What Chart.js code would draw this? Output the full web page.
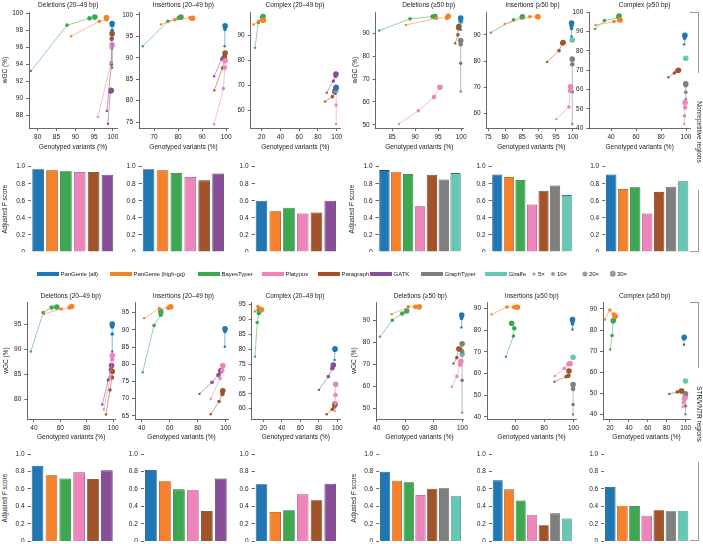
<!DOCTYPE html>
<html>
<head>
<meta charset="utf-8">
<title>wGC and adjusted F score</title>
<script src="https://cdn.jsdelivr.net/npm/chart.js@4.4.1/dist/chart.umd.min.js"></script>
<style>
  html, body { margin: 0; padding: 0; background: #fff; }
  body { position: relative; width: 703px; height: 544px; overflow: hidden;
         font-family: "Liberation Sans", Arial, Helvetica, sans-serif; color: #222; }
  canvas { position: absolute; }
  .txt { position: absolute; font-size: 6.5px; line-height: 1; white-space: nowrap; transform: translate(-50%, -50%); }
  .rot { transform: translate(-50%, -50%) rotate(-90deg); }
  .rot90 { transform: translate(-50%, -50%) rotate(90deg); }
  .ltxt { position: absolute; font-size: 6.1px; letter-spacing: -0.1px; line-height: 1; white-space: nowrap; transform: translateY(-50%); }
  .sw { position: absolute; height: 4px; width: 22px; }
  .dot { position: absolute; border-radius: 50%; background: #9a9a9a; transform: translate(-50%, -50%); }
  .ln { position: absolute; background: #9a9a9a; }
</style>
</head>
<body>
<script>
// ---------------- data ----------------
const tools = ["PanGenie (all)", "PanGenie (high-gq)", "BayesTyper", "Platypus", "Paragraph", "GATK", "GraphTyper", "Giraffe"];
const toolColors = ["#1f77b4", "#f5822a", "#3da851", "#ed85ba", "#a2532a", "#884e97", "#7f7f7f", "#66c8b4"];
const coverages = ["5×", "10×", "20×", "30×"];
const panelTitles = ["Deletions (20–49 bp)", "Insertions (20–49 bp)", "Complex (20–49 bp)",
                     "Deletions (≥50 bp)", "Insertions (≥50 bp)", "Complex (≥50 bp)"];
const regionLabels = ["Nonrepetitive regions", "STR/VNTR regions"];

// genotyped variants (%) and wGC (%): one row per tool, one column per coverage
const nrDelShortX = [[99.8,99.8,99.8,99.8],[88.9,96.4,98.3,98.3],[78.2,87.8,93.8,95.2],[96.0,99.5,99.7,99.8],[98.4,99.6,99.7,99.8],[98.7,99.3,99.5,99.6],null,null];
const nrDelShortY = [[93.6,98.0,98.6,98.8],[97.3,99.05,99.3,99.5],[93.2,98.6,99.4,99.55],[87.8,94.2,95.95,96.25],[88.5,94.0,97.0,97.6],[87.0,90.75,91.0,90.9],null,null];
const nrInsShortX = [[99.4,99.5,99.6,99.6],[72.9,78.7,85.2,86.0],[65.3,75.8,80.3,81.2],[95.0,98.9,99.5,99.6],[95.1,98.5,99.4,99.6],[95.0,98.2,99.0,99.2],null,null];
const nrInsShortY = [[92.7,96.6,97.2,97.5],[97.8,98.9,99.3,99.25],[92.7,98.5,99.3,99.5],[74.5,82.8,87.7,89.3],[82.4,87.6,90.4,91.1],[85.7,89.7,89.9,90.0],null,null];
const nrCpxShortX = [[98.6,99.0,99.2,99.3],[11.5,17.0,20.5,21.8],[12.9,16.5,20.5,21.5],[99.3,99.4,99.5,99.5],[87.6,95.4,97.5,98.6],[89.3,96.4,98.8,99.2],null,null];
const nrCpxShortY = [[66.5,68.3,68.8,69.0],[94.4,95.7,96.0,96.1],[85.0,95.2,97.3,97.6],[54.4,62.0,67.6,69.1],[63.4,65.4,67.4,68.0],[67.0,71.7,73.8,74.5],null,null];
const nrDelLongX = [[99.9,99.9,99.9,99.9],[88.0,94.6,96.9,97.2],[82.2,88.9,93.8,94.3],[86.5,90.7,94.1,95.4],[98.7,99.3,99.4,99.5],null,[99.9,99.9,99.9,99.9],[null,null,null,99.9]];
const nrDelLongY = [[91.5,95.5,96.5,96.7],[93.6,96.6,96.8,97.4],[91.2,96.3,97.3,97.3],[50.4,56.1,62.1,66.4],[85.6,89.3,92.2,92.9],null,[64.5,76.9,85.2,86.8],[null,null,null,95.3]];
const nrInsLongX = [[99.6,99.6,99.6,99.6],[79.9,87.3,89.4,89.7],[75.8,82.5,85.0,85.1],[95.1,98.8,99.2,99.3],[92.4,95.9,96.9,97.1],null,[99.8,99.8,99.8,99.8],[null,null,null,99.8]];
const nrInsLongY = [[89.4,92.5,93.6,94.6],[94.2,97.0,97.0,97.0],[90.9,95.8,96.9,97.0],[57.8,62.4,68.6,70.2],[79.7,84.0,86.8,87.1],null,[55.9,68.3,78.8,80.8],[null,null,null,88.1]];
const nrCpxLongX = [[98.4,98.8,99.0,99.1],[27.7,42.4,46.7,47.2],[27.2,34.7,45.9,46.4],[98.5,98.8,99.3,99.3],[85.9,90.7,93.1,94.0],null,[99.8,99.8,99.8,99.8],[null,null,null,99.8]];
const nrCpxLongY = [[83.4,86.5,87.5,88.1],[93.4,95.2,96.0,96.0],[91.4,95.7,97.4,98.1],[42.2,46.4,50.7,53.3],[66.4,68.6,69.7,70.0],null,[55.0,58.6,62.2,63.0],[null,null,null,76.2]];

const strDelShortX = [[99.2,99.2,99.2,99.2],[47.5,60.5,67.0,68.5],[37.7,47.0,53.4,57.3],[92.9,97.5,99.2,99.3],[94.5,97.5,99.0,99.2],[91.7,96.2,98.2,98.7],null,null];
const strDelShortY = [[89.5,93.0,94.5,95.0],[97.0,98.0,98.3,98.5],[89.5,97.3,98.3,98.4],[77.9,84.3,87.9,88.7],[76.9,81.8,84.3,85.5],[78.9,83.8,85.9,86.7],null,null];
const strInsShortX = [[99.3,99.4,99.5,99.5],[41.7,52.6,59.0,60.7],[40.7,48.8,53.6,53.6],[89.3,95.9,97.6,97.9],[89.3,95.2,97.6,97.9],[81.2,90.2,94.8,96.4],null,null];
const strInsShortY = [[85.1,89.5,90.0,90.3],[93.4,96.2,96.4,96.7],[77.7,91.3,94.4,95.3],[69.9,75.9,78.2,79.6],[65.5,69.2,71.4,72.3],[71.4,74.8,76.9,78.1],null,null];
const strCpxShortX = [[97.0,97.3,97.5,97.5],[11.0,14.3,17.3,18.0],[11.0,13.5,15.2,15.8],[97.2,97.8,98.0,98.2],[88.5,94.6,96.8,97.5],[80.2,90.3,94.6,95.7],null,null];
const strCpxShortY = [[76.4,79.6,80.0,80.1],[92.7,94.4,93.6,93.3],[77.5,89.0,92.2,93.0],[59.2,61.8,64.6,68.2],[58.1,59.8,60.7,61.5],[66.3,70.8,73.6,74.7],null,null];
const strDelLongX = [[99.3,99.4,99.5,99.5],[50.5,62.1,67.0,69.8],[42.3,50.9,57.9,61.0],[92.6,96.1,98.4,98.9],[93.7,96.1,97.2,97.7],null,[99.8,99.8,99.8,99.8],[null,null,null,99.8]];
const strDelLongY = [[86.8,90.8,91.9,92.4],[92.8,96.1,96.1,96.1],[82.6,90.0,93.1,94.2],[59.9,64.6,69.9,71.3],[70.4,73.1,77.1,77.0],null,[48.2,62.8,75.8,79.4],[null,null,null,74.6]];
const strInsLongX = [[99.4,99.4,99.4,99.4],[44.0,54.4,59.5,61.6],[53.8,58.9,59.5,57.7],[87.4,93.8,96.6,97.7],[87.0,95.0,96.6,97.0],null,[99.8,99.8,99.8,99.8],[null,null,null,99.8]];
const strInsLongY = [[80.2,82.8,84.0,84.8],[87.2,90.6,90.5,90.5],[67.7,77.2,80.8,83.1],[58.8,62.3,64.2,64.5],[56.2,58.5,58.9,61.1],null,[41.1,45.7,52.8,54.9],[null,null,null,67.4]];
const strCpxLongX = [[98.2,98.3,98.4,98.5],[14.7,19.8,24.0,25.5],[20.2,22.2,23.3,23.5],[96.8,97.5,98.5,99.0],[82.7,91.1,94.6,95.7],null,[99.8,99.8,99.8,99.8],[null,null,null,99.8]];
const strCpxLongY = [[73.0,75.8,76.3,76.6],[85.0,89.5,87.3,86.5],[70.8,77.4,84.0,84.5],[43.6,45.5,47.0,47.6],[49.7,50.6,51.1,51.1],null,[40.0,44.0,48.3,49.8],[null,null,null,55.8]];

// adjusted F score, one value per tool
const nrDelShortF = [0.97, 0.958, 0.946, 0.938, 0.938, 0.906, null, null];
const nrInsShortF = [0.97, 0.958, 0.926, 0.879, 0.84, 0.92, null, null];
const nrCpxShortF = [0.6, 0.478, 0.52, 0.45, 0.463, 0.6, null, null];
const nrDelLongF = [0.96, 0.94, 0.915, 0.537, 0.905, null, 0.85, 0.925];
const nrInsLongF = [0.91, 0.88, 0.845, 0.557, 0.718, null, 0.78, 0.667];
const nrCpxLongF = [0.91, 0.74, 0.76, 0.45, 0.705, null, 0.765, 0.83];
const strDelShortF = [0.866, 0.756, 0.72, 0.79, 0.714, 0.813, null, null];
const strInsShortF = [0.817, 0.687, 0.595, 0.584, 0.347, 0.72, null, null];
const strCpxShortF = [0.653, 0.336, 0.355, 0.538, 0.47, 0.66, null, null];
const strDelLongF = [0.798, 0.695, 0.676, 0.53, 0.603, null, 0.607, 0.515];
const strInsLongF = [0.698, 0.595, 0.466, 0.305, 0.183, null, 0.32, 0.26];
const strCpxLongF = [0.622, 0.408, 0.405, 0.294, 0.355, null, 0.344, 0.35];

// tick values
const barTicks = [0, 0.2, 0.4, 0.6, 0.8, 1.0];
const barTickLabels = ["0", "0.2", "0.4", "0.6", "0.8", "1.0"];
const nrDelShortXTicks = [80, 85, 90, 95, 100];
const nrDelShortYTicks = [88, 90, 92, 94, 96, 98, 100];
const nrInsShortXTicks = [70, 80, 90, 100];
const nrInsShortYTicks = [75, 80, 85, 90, 95, 100];
const nrCpxShortXTicks = [20, 40, 60, 80, 100];
const nrCpxShortYTicks = [60, 70, 80, 90];
const nrDelLongXTicks = [85, 90, 95, 100];
const nrDelLongYTicks = [50, 60, 70, 80, 90];
const nrInsLongXTicks = [75, 80, 85, 90, 95, 100];
const nrInsLongYTicks = [60, 70, 80, 90];
const nrCpxLongXTicks = [40, 60, 80, 100];
const nrCpxLongYTicks = [40, 50, 60, 70, 80, 90, 100];
const strDelShortXTicks = [40, 60, 80, 100];
const strDelShortYTicks = [80, 85, 90, 95];
const strInsShortXTicks = [40, 60, 80, 100];
const strInsShortYTicks = [65, 70, 75, 80, 85, 90, 95];
const strCpxShortXTicks = [20, 40, 60, 80, 100];
const strCpxShortYTicks = [60, 65, 70, 75, 80, 85, 90, 95];
const strDelLongXTicks = [40, 60, 80, 100];
const strDelLongYTicks = [50, 60, 70, 80, 90];
const strInsLongXTicks = [60, 80, 100];
const strInsLongYTicks = [40, 50, 60, 70, 80, 90];
const strCpxLongXTicks = [20, 40, 60, 80, 100];
const strCpxLongYTicks = [40, 50, 60, 70, 80, 90];

// ---------------- styling ----------------
const FONT = '"Liberation Sans", Arial, Helvetica, sans-serif';
const FS = 6.5;
const INK = "#222";
const AXIS = "#444";
const covRadius = [1.2, 1.8, 2.3, 2.8];

Chart.defaults.font.family = FONT;
Chart.defaults.font.size = FS;
Chart.defaults.color = INK;

function fade(hex, a) {
  const n = parseInt(hex.slice(1), 16);
  return `rgba(${n >> 16},${(n >> 8) & 255},${n & 255},${a})`;
}
function shade(hex, f) {
  const n = parseInt(hex.slice(1), 16);
  return `rgb(${Math.round((n >> 16) * f)},${Math.round(((n >> 8) & 255) * f)},${Math.round((n & 255) * f)})`;
}

function addText(html, x, y, cls) {
  const d = document.createElement("div");
  d.className = cls;
  d.innerHTML = html;
  d.style.left = x + "px";
  d.style.top = y + "px";
  document.body.appendChild(d);
  return d;
}

// canvas whose chart area lands exactly on box
function makeCanvas(box, yw, xh, pt, pr) {
  const left = Math.floor(box.l - yw);
  const top = Math.floor(box.t - pt);
  const right = Math.ceil(box.r + pr);
  const bottom = Math.ceil(box.b + xh);
  const c = document.createElement("canvas");
  c.width = right - left;
  c.height = bottom - top;
  c.style.left = left + "px";
  c.style.top = top + "px";
  c.style.width = c.width + "px";
  c.style.height = c.height + "px";
  document.body.appendChild(c);
  return { c, padding: { left: box.l - yw - left, top: box.t - top, right: right - box.r, bottom: bottom - box.b - xh } };
}

function axis(ticks, fit, labels) {
  return {
    afterBuildTicks: s => { s.ticks = ticks.map(v => ({ value: v })); },
    afterFit: fit,
    grid: { display: true, drawOnChartArea: false, drawTicks: true, tickLength: 3, color: AXIS, lineWidth: 0.8 },
    border: { display: true, color: AXIS, width: 0.8 },
    ticks: {
      font: { family: FONT, size: FS }, color: INK, padding: 2,
      maxRotation: 0, minRotation: 0, autoSkip: false,
      callback: (v, i) => labels ? labels[i] : String(v)
    }
  };
}

function scatterPanel(p) {
  const { c, padding } = makeCanvas(p.box, p.yw, p.xh, 6, 10);
  const datasets = [];
  p.xs.forEach((row, i) => {
    if (!row) return;
    const pts = [], radii = [];
    row.forEach((xv, k) => {
      if (xv == null) return;
      pts.push({ x: xv, y: p.ys[i][k] });
      radii.push(covRadius[k]);
    });
    datasets.push({
      label: tools[i], data: pts, showLine: true,
      borderColor: fade(toolColors[i], 0.6), borderWidth: 0.9,
      backgroundColor: toolColors[i], pointBackgroundColor: toolColors[i],
      pointBorderColor: toolColors[i], pointBorderWidth: 0,
      pointRadius: radii, clip: false
    });
  });

  const x = axis(p.xt, s => { s.height = p.xh; s.paddingLeft = 0; s.paddingRight = 0; });
  x.type = "linear"; x.min = p.xr[0]; x.max = p.xr[1];
  x.title = { display: true, text: "Genotyped variants (%)", font: { family: FONT, size: FS }, color: INK, padding: 0 };
  const y = axis(p.yt, s => { s.width = p.yw; s.paddingTop = 0; s.paddingBottom = 0; });
  y.type = "linear"; y.min = p.yr[0]; y.max = p.yr[1];
  y.ticks.padding = 3;
  y.title = { display: !!p.yTitle, text: "wGC (%)", font: { family: FONT, size: FS }, color: INK, padding: 0 };

  new Chart(c, {
    type: "scatter",
    data: { datasets },
    options: {
      responsive: false, animation: false, devicePixelRatio: 1, events: [],
      layout: { padding },
      plugins: { legend: { display: false }, tooltip: { enabled: false } },
      scales: { x, y }
    }
  });
  addText(p.title, p.tx, p.ty, "txt");
}

function barPanel(p) {
  const yw = 20;
  const { c, padding } = makeCanvas(p.box, yw, 0, 5, 2);
  const idx = tools.map((t, i) => i).filter(i => p.vals[i] != null);
  const y = axis(barTicks, s => { s.width = yw; s.paddingTop = 0; s.paddingBottom = 0; }, barTickLabels);
  y.min = 0; y.max = 1;
  y.ticks.padding = 3;
  y.border = { display: false };
  new Chart(c, {
    type: "bar",
    data: {
      labels: idx.map(i => tools[i]),
      datasets: [{
        data: idx.map(i => p.vals[i]),
        backgroundColor: idx.map(i => toolColors[i]),
        borderColor: idx.map(i => shade(toolColors[i], 0.6)),
        borderWidth: 0.8,
        barPercentage: idx.length === 6 ? 0.84 : 0.87,
        categoryPercentage: 1
      }]
    },
    options: {
      responsive: false, animation: false, devicePixelRatio: 1, events: [],
      layout: { padding },
      plugins: { legend: { display: false }, tooltip: { enabled: false } },
      scales: { x: { display: false, offset: true }, y }
    }
  });
}

// ---------------- panels ----------------
const R1 = { t: 12, b: 128, xh: 23.2, ty: 4.7 };
const R3 = { t: 302, b: 419, xh: 22.2, ty: 295.7 };

[
  { title: panelTitles[0], tx: 68.3, row: R1, l: 29, r: 117, xr: [77.7, 101.1], yr: [86.5, 100.15], xt: nrDelShortXTicks, yt: nrDelShortYTicks, xs: nrDelShortX, ys: nrDelShortY, yTitle: true, yw: 27.9 },
  { title: panelTitles[1], tx: 183.3, row: R1, l: 139, r: 228, xr: [63.75, 100.8], yr: [73.6, 100.7], xt: nrInsShortXTicks, yt: nrInsShortYTicks, xs: nrInsShortX, ys: nrInsShortY, yw: 25 },
  { title: panelTitles[2], tx: 295, row: R1, l: 250.7, r: 340, xr: [8.3, 103.5], yr: [52.8, 99.4], xt: nrCpxShortXTicks, yt: nrCpxShortYTicks, xs: nrCpxShortX, ys: nrCpxShortY, yw: 25 },
  { title: panelTitles[3], tx: 428.7, row: R1, l: 375.7, r: 463, xr: [81.45, 100.4], yr: [48.6, 99.3], xt: nrDelLongXTicks, yt: nrDelLongYTicks, xs: nrDelLongX, ys: nrDelLongY, yTitle: true, yw: 23.9 },
  { title: panelTitles[4], tx: 532.5, row: R1, l: 486.7, r: 576, xr: [74.6, 100.9], yr: [54.4, 98.8], xt: nrInsLongXTicks, yt: nrInsLongYTicks, xs: nrInsLongX, ys: nrInsLongY, yw: 25 },
  { title: panelTitles[5], tx: 644.5, row: R1, l: 589.3, r: 690, xr: [22.6, 103.2], yr: [40.1, 100.15], xt: nrCpxLongXTicks, yt: nrCpxLongYTicks, xs: nrCpxLongX, ys: nrCpxLongY, yw: 25 },
  { title: panelTitles[0], tx: 70.8, row: R3, l: 27.3, r: 115, xr: [35, 101.3], yr: [76, 99.4], xt: strDelShortXTicks, yt: strDelShortYTicks, xs: strDelShortX, ys: strDelShortY, yTitle: true, yw: 24.5 },
  { title: panelTitles[1], tx: 183.3, row: R3, l: 135, r: 228, xr: [35.2, 101.6], yr: [64.1, 98.1], xt: strInsShortXTicks, yt: strInsShortYTicks, xs: strInsShortX, ys: strInsShortY, yw: 25 },
  { title: panelTitles[2], tx: 295, row: R3, l: 251.7, r: 340, xr: [7.5, 102.9], yr: [56.5, 95.9], xt: strCpxShortXTicks, yt: strCpxShortYTicks, xs: strCpxShortX, ys: strCpxShortY, yw: 25 },
  { title: panelTitles[3], tx: 420.3, row: R3, l: 376, r: 463, xr: [39.5, 100.4], yr: [45.3, 98.3], xt: strDelLongXTicks, yt: strDelLongYTicks, xs: strDelLongX, ys: strDelLongY, yTitle: true, yw: 25.9 },
  { title: panelTitles[4], tx: 531.7, row: R3, l: 487, r: 576, xr: [40.8, 101.8], yr: [39, 92.9], xt: strInsLongXTicks, yt: strInsLongYTicks, xs: strInsLongX, ys: strInsLongY, yw: 25 },
  { title: panelTitles[5], tx: 644.7, row: R3, l: 603, r: 690, xr: [12.6, 104.6], yr: [37.8, 93.3], xt: strCpxLongXTicks, yt: strCpxLongYTicks, xs: strCpxLongX, ys: strCpxLongY, yw: 25 }
].forEach(p => scatterPanel(Object.assign(p, { box: { l: p.l, r: p.r, t: p.row.t, b: p.row.b }, xh: p.row.xh, ty: p.row.ty })));

const R2 = { t: 166.7, b: 252 };
const R4 = { t: 454, b: 541.3 };
[
  { row: R2, l: 31.2, r: 114.4, vals: nrDelShortF },
  { row: R2, l: 141.6, r: 225.1, vals: nrInsShortF },
  { row: R2, l: 254.6, r: 337.1, vals: nrCpxShortF },
  { row: R2, l: 378.5, r: 461.5, vals: nrDelLongF },
  { row: R2, l: 491.5, r: 572.5, vals: nrInsLongF },
  { row: R2, l: 605.2, r: 689.1, vals: nrCpxLongF },
  { row: R4, l: 30.6, r: 113.8, vals: strDelShortF },
  { row: R4, l: 143.9, r: 227.8, vals: strInsShortF },
  { row: R4, l: 254.6, r: 337.1, vals: strCpxShortF },
  { row: R4, l: 379.2, r: 461.8, vals: strDelLongF },
  { row: R4, l: 491.9, r: 572.5, vals: strInsLongF },
  { row: R4, l: 604.2, r: 689.1, vals: strCpxLongF }
].forEach(p => barPanel({ box: { l: p.l, r: p.r, t: p.row.t, b: p.row.b }, vals: p.vals }));

// bar y titles
[[5, 209.3], [351.7, 209.3], [5, 497.7], [354, 497.7]].forEach(([x, y]) =>
  addText("Adjusted <i>F</i> score", x, y, "txt rot"));

// ---------------- legend ----------------
[37, 110, 198, 262, 318, 370, 421, 485].forEach((x, i) => {
  const s = document.createElement("div");
  s.className = "sw";
  s.style.left = x + "px";
  s.style.top = "272px";
  s.style.background = toolColors[i];
  document.body.appendChild(s);
  addText(tools[i], x + 23.5, 274, "ltxt");
});
[534, 553, 585, 613].forEach((x, k) => {
  const d = document.createElement("div");
  d.className = "dot";
  const r = [1.5, 2, 2.6, 3.2][k];
  d.style.width = d.style.height = (2 * r) + "px";
  d.style.left = x + "px";
  d.style.top = "274px";
  document.body.appendChild(d);
  addText(coverages[k], x + 4, 274, "ltxt");
});

// ---------------- region brackets ----------------
function line(l, t, w, h) {
  const d = document.createElement("div");
  d.className = "ln";
  Object.assign(d.style, { left: l + "px", top: t + "px", width: w + "px", height: h + "px" });
  document.body.appendChild(d);
}
line(690, 12, 9, 1); line(698, 12, 1, 61); line(698, 190, 1, 62); line(690, 251, 9, 1);
addText(regionLabels[0], 699, 131.5, "txt rot90");
line(690, 302, 9, 1); line(698, 302, 1, 66); line(698, 462, 1, 79); line(690, 540, 9, 1);
addText(regionLabels[1], 699, 414, "txt rot90");
</script>
</body>
</html>
